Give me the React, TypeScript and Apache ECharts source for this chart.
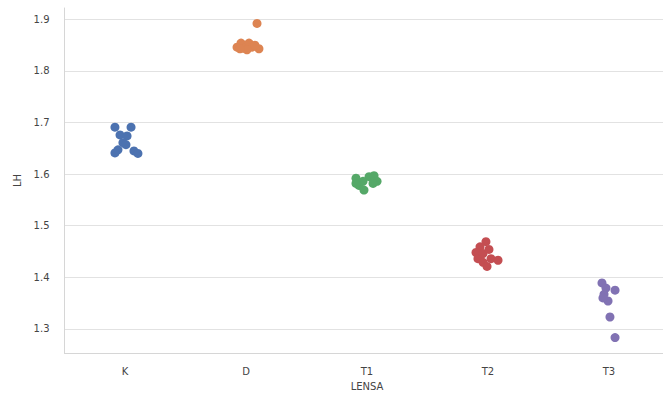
import React, { useEffect, useRef } from "react";
import * as echarts from "echarts";

// Lens groups on the x axis
const categories = ["K", "D", "T1", "T2", "T3"];
const colors = ["#4C72B0", "#DD8452", "#55A868", "#C44E52", "#8172B3"];

// LH measurements per lens group: [jitter offset within the category, LH]
const kPoints: [number, number][] = [
  [-0.083, 1.691], [0.05, 1.691], [-0.041, 1.676], [0.017, 1.674], [-0.017, 1.661],
  [0.008, 1.657], [-0.058, 1.647], [-0.083, 1.641], [0.074, 1.645], [0.107, 1.64],
];
const dPoints: [number, number][] = [
  [0.091, 1.892], [-0.041, 1.854], [0.025, 1.854], [-0.074, 1.846], [-0.017, 1.844],
  [0.05, 1.846], [0.107, 1.843], [0.008, 1.841], [-0.05, 1.843], [0.074, 1.85],
];
const t1Points: [number, number][] = [
  [-0.091, 1.592], [-0.066, 1.578], [-0.025, 1.569], [0.017, 1.595], [0.058, 1.597],
  [0.083, 1.586], [0.05, 1.582], [-0.033, 1.586], [-0.091, 1.582],
];
const t2Points: [number, number][] = [
  [-0.017, 1.469], [-0.066, 1.459], [-0.099, 1.448], [-0.083, 1.436], [-0.041, 1.429],
  [-0.008, 1.421], [0.025, 1.436], [0.083, 1.433], [-0.041, 1.446], [0.008, 1.454],
];
const t3Points: [number, number][] = [
  [-0.058, 1.389], [-0.025, 1.379], [0.05, 1.375], [-0.041, 1.367], [-0.008, 1.354],
  [0.008, 1.323], [0.05, 1.283], [-0.05, 1.36],
];

const groups = [kPoints, dPoints, t1Points, t2Points, t3Points];

const yMin = 1.253;
const yMax = 1.922;

export default function App() {
  const ref = useRef<HTMLDivElement>(null);

  useEffect(() => {
    if (!ref.current) return;
    const chart = echarts.init(ref.current, null, { renderer: "svg" });
    const font = "DejaVu Sans";
    const spine = "#d6d6d6";

    const series = groups.map((pts, i) => ({
      type: "scatter",
      xAxisIndex: 1,
      name: categories[i],
      symbolSize: 9,
      itemStyle: { color: colors[i], opacity: 1 },
      data: pts.map(([dx, v]) => [i + dx, v]),
    }));

    chart.setOption({
      animation: false,
      backgroundColor: "#ffffff",
      // the axes run slightly past the right edge of the visible frame
      grid: { left: 64.5, right: 2.5, top: 8, bottom: 39 },
      xAxis: [
        {
          type: "category",
          data: categories,
          boundaryGap: true,
          name: "LENSA",
          nameLocation: "middle",
          nameGap: 25,
          nameTextStyle: { fontFamily: font, fontSize: 10, color: "#444" },
          axisLine: { show: true, onZero: false, lineStyle: { color: spine, width: 1 } },
          axisTick: { show: false },
          axisLabel: { fontFamily: font, fontSize: 10, color: "#444", margin: 13 },
          splitLine: { show: false },
        },
        {
          type: "value",
          min: -0.5,
          max: 4.5,
          show: false,
          splitLine: { show: false },
        },
      ],
      yAxis: {
        type: "value",
        min: yMin,
        max: yMax,
        splitNumber: 7,
        name: "LH",
        nameLocation: "middle",
        nameGap: 42,
        nameTextStyle: { fontFamily: font, fontSize: 10, color: "#444" },
        axisLine: { show: true, onZero: false, lineStyle: { color: spine, width: 1 } },
        axisTick: { show: false },
        axisLabel: {
          fontFamily: font,
          fontSize: 10,
          color: "#444",
          margin: 15,
          showMinLabel: false,
          showMaxLabel: false,
          formatter: (v: number) => v.toFixed(1),
        },
        splitLine: {
          show: true,
          showMinLine: false,
          showMaxLine: false,
          lineStyle: { color: "#e2e2e2", width: 1 },
        },
      },
      series,
    });

    return () => chart.dispose();
  }, []);

  return (
    <div
      style={{
        position: "absolute",
        left: 0,
        top: 0,
        width: 663,
        height: 396,
        overflow: "hidden",
        background: "#fff",
      }}
    >
      <div ref={ref} style={{ width: 672, height: 396 }} />
    </div>
  );
}
